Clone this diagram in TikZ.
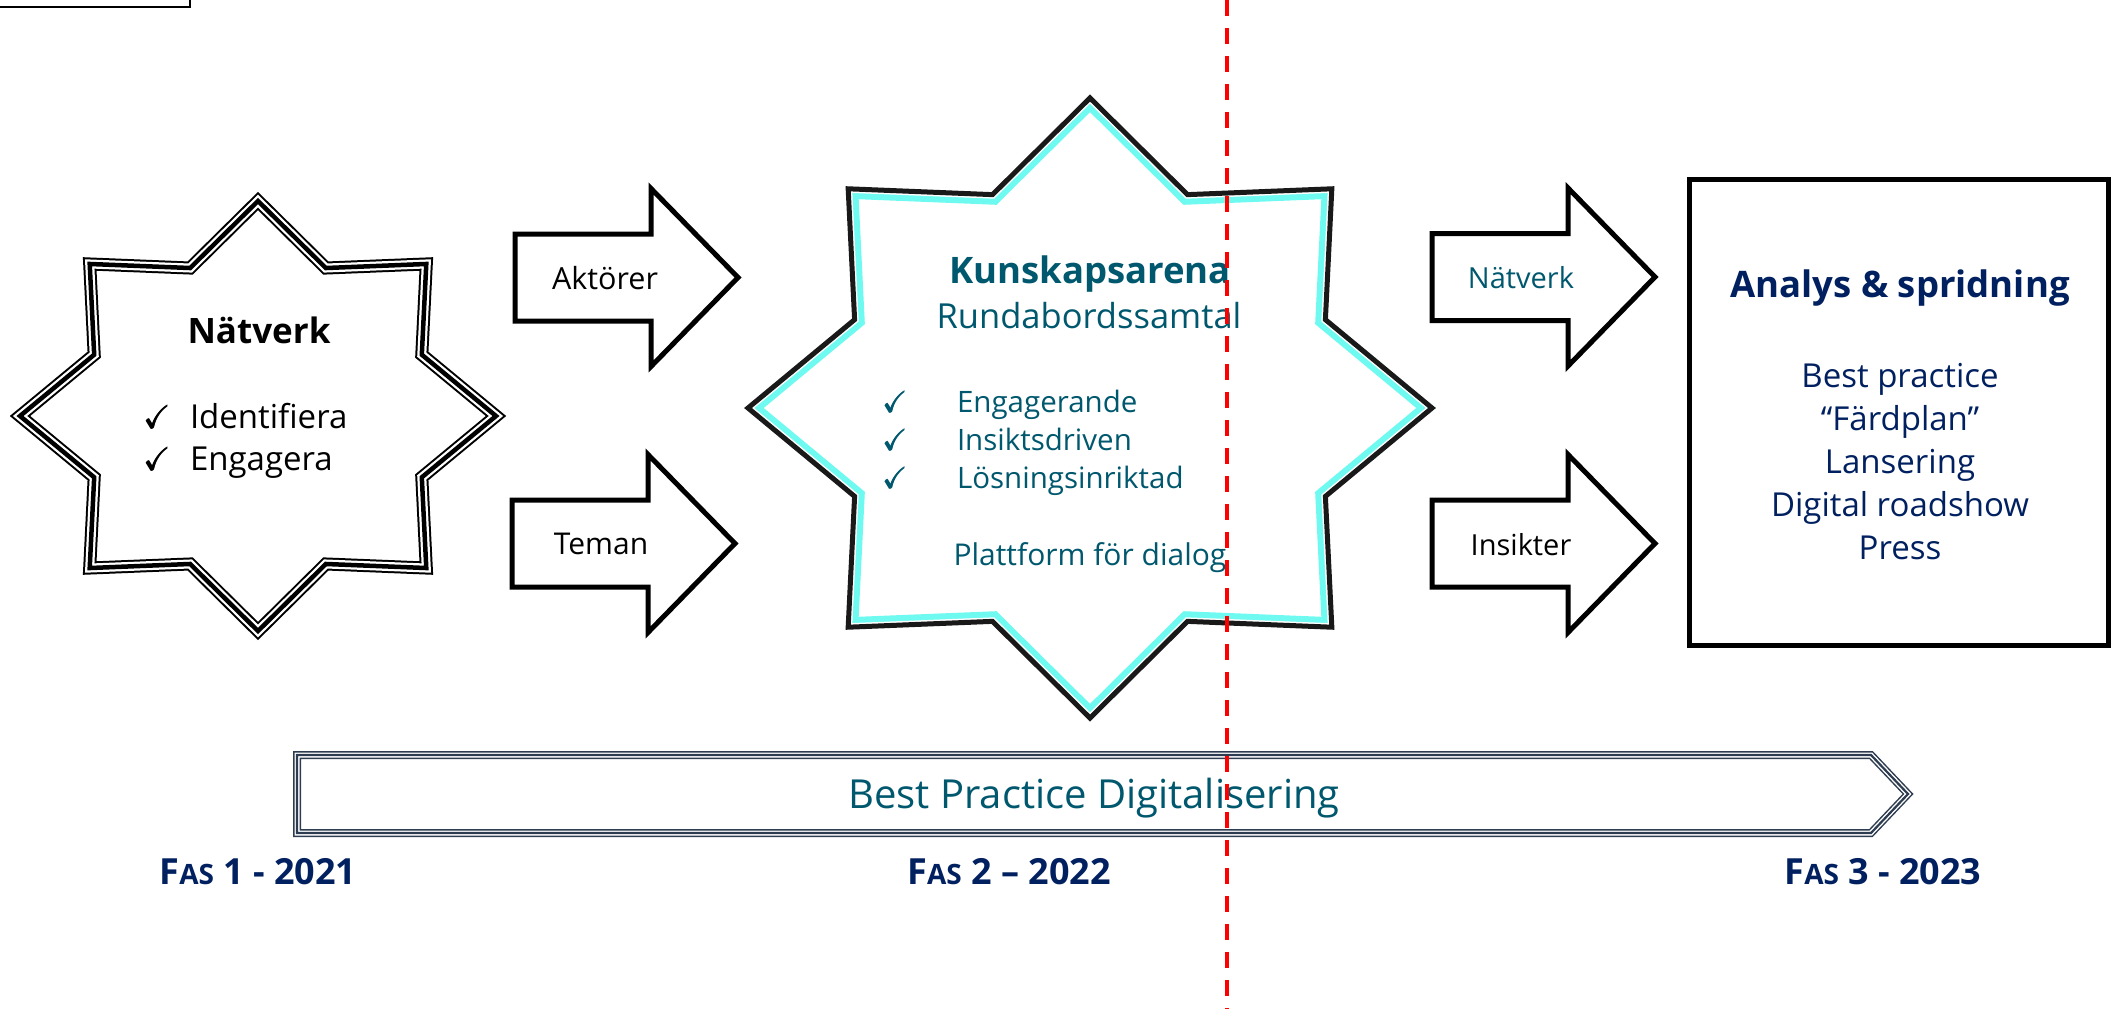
\documentclass[tikz,border=0pt]{standalone}
\usepackage{fontspec}
\usepackage{amssymb}
\setmainfont{Open Sans}[Ligatures=CommonOff]
\definecolor{teal1}{RGB}{0,88,110}
\definecolor{navy1}{RGB}{0,32,96}
\definecolor{cyan1}{RGB}{110,250,240}
\definecolor{slate1}{RGB}{45,60,80}
\definecolor{red1}{RGB}{255,0,0}
\newcommand{\fsz}[2]{\fontsize{#1pt}{#2pt}\selectfont}
% heavier check mark (poor man's bold)
\newcommand{\chk}{\rlap{\checkmark}\kern0.8pt\rlap{\checkmark}\kern0.0pt\raisebox{0.5pt}{\checkmark}}
% 8-point star path: cx, cy, rx, ry, inner ratio
\newcommand{\starpath}[5]{(#1,#2-#4) \foreach \k [evaluate=\k as \f using {ifthenelse(mod(\k,2)==0,1,#5)}] in {1,...,15}{ -- ({#1+#3*\f*cos(90-22.5*\k)},{#2-#4*\f*sin(90-22.5*\k)}) } -- cycle}
% block arrow: x0, yc
\newcommand{\barrow}[2]{(#1,#2-43.5) -- (#1+136,#2-43.5) -- (#1+136,#2-89) -- (#1+223,#2) -- (#1+136,#2+89) -- (#1+136,#2+43.5) -- (#1,#2+43.5) -- cycle}
\tikzset{
  lbl/.style={inner sep=0pt, outer sep=0pt},
  blockarrow/.style={draw=black, fill=white, line width=5pt, line join=miter},
}
\begin{document}
\begin{tikzpicture}[x=1pt,y=-1pt,line join=miter,miter limit=10]
\useasboundingbox (0,0) rectangle (2113,1009);
\fill[white] (0,0) rectangle (2113,1009);

% top-left box fragment
\draw[line width=2.5pt] (-20,-20) rectangle (190,7);

% ---- Star 1: Nätverk (triple line)
\def\starA{\starpath{258}{416}{238}{215}{0.745}}
\fill[white] \starA;
\draw[black, line width=13pt] \starA;
\draw[white, line width=9pt] \starA;
\draw[black, line width=4.5pt] \starA;
\node[lbl, anchor=base] (n1title) at (259,343) {\fsz{35}{42}\bfseries Nätverk};
\node[lbl, anchor=base west] (n1c1) at (143,428) {\fsz{32}{38}\chk};
\node[lbl, anchor=base west] (n1t1) at (190,428) {\fsz{33}{38}Identifiera};
\node[lbl, anchor=base west] (n1c2) at (143,470) {\fsz{32}{38}\chk};
\node[lbl, anchor=base west] (n1t2) at (190,470) {\fsz{33}{38}Engagera};

% ---- left arrows
\draw[blockarrow] \barrow{515}{277.5};
\draw[blockarrow] \barrow{512}{543.5};
\node[lbl, anchor=base] (lakt) at (605,289) {\fsz{30.5}{36}Aktörer};
\node[lbl, anchor=base] (ltem) at (601,554) {\fsz{30}{36}Teman};

% ---- Star 2: Kunskapsarena (black + cyan inner line)
\def\starB{\starpath{1090}{408}{342}{310}{0.745}}
\fill[white] \starB;
\begin{scope}
  \clip \starB;
  \draw[cyan1, line width=20pt] \starB;
  \draw[white, line width=8pt] \starB;
\end{scope}
\draw[black!90, line width=5pt] \starB;
\node[lbl, anchor=base, text=teal1] (k1) at (1090,283) {\fsz{36.5}{44}\bfseries Kunskapsarena};
\node[lbl, anchor=base, text=teal1] (k2) at (1089,328) {\fsz{34.5}{42}Rundabordssamtal};
\node[lbl, anchor=base west, text=teal1] (kc1) at (882,412) {\fsz{29.5}{36}\chk};
\node[lbl, anchor=base west, text=teal1] (kt1) at (957,412) {\fsz{29.5}{36}Engagerande};
\node[lbl, anchor=base west, text=teal1] (kc2) at (882,450) {\fsz{29.5}{36}\chk};
\node[lbl, anchor=base west, text=teal1] (kt2) at (957,450) {\fsz{29.5}{36}Insiktsdriven};
\node[lbl, anchor=base west, text=teal1] (kc3) at (882,488) {\fsz{29.5}{36}\chk};
\node[lbl, anchor=base west, text=teal1] (kt3) at (957,488) {\fsz{29.5}{36}Lösningsinriktad};
\node[lbl, anchor=base, text=teal1] (k4) at (1090,565) {\fsz{30}{36}Plattform för dialog};

% ---- right arrows
\draw[blockarrow] \barrow{1432}{277};
\draw[blockarrow] \barrow{1432}{543.5};
\node[lbl, anchor=base, text=teal1] (lnat) at (1521,288) {\fsz{29}{35}Nätverk};
\node[lbl, anchor=base] (lins) at (1521,555) {\fsz{29}{35}Insikter};

% ---- box
\draw[line width=5pt, fill=white] (1689,179) rectangle (2108,645);
\node[lbl, anchor=base, text=navy1] (b0) at (1900,297) {\fsz{36.5}{42}\bfseries Analys \& spridning};
\node[lbl, anchor=base, text=navy1] (b1) at (1900,387) {\fsz{33}{40}Best practice};
\node[lbl, anchor=base, text=navy1] (b2) at (1900,430) {\fsz{33}{40}“Färdplan”};
\node[lbl, anchor=base, text=navy1] (b3) at (1900,473) {\fsz{33}{40}Lansering};
\node[lbl, anchor=base, text=navy1] (b4) at (1900,516) {\fsz{33}{40}Digital roadshow};
\node[lbl, anchor=base, text=navy1] (b5) at (1900,559) {\fsz{33}{40}Press};

% ---- bottom bar
\def\barpath{(297,755) -- (1871,755) -- (1908,794) -- (1871,833) -- (297,833) -- cycle}
\fill[white] \barpath;
\draw[slate1, line width=8pt] \barpath;
\draw[white, line width=5pt] \barpath;
\draw[slate1, line width=2.2pt] \barpath;
\node[lbl, anchor=base, text=teal1] (bar) at (1094,808) {\fsz{40}{48}Best Practice Digitalisering};

% ---- phase labels
\node[lbl, anchor=base, text=navy1] (f1) at (258,884) {\fsz{36}{42}\bfseries F{\fsz{28}{32}AS} 1 - 2021};
\node[lbl, anchor=base, text=navy1] (f2) at (1009,884) {\fsz{36}{42}\bfseries F{\fsz{28}{32}AS} 2 – 2022};
\node[lbl, anchor=base, text=navy1] (f3) at (1883,884) {\fsz{36}{42}\bfseries F{\fsz{28}{32}AS} 3 - 2023};

% ---- red dashed divider
\coordinate (rtop) at (1227,0);
\coordinate (rbot) at (1227,1009);
\draw[red1, line width=4pt, dash pattern=on 16pt off 12pt] (rtop) -- (rbot);
\end{tikzpicture}
\end{document}
